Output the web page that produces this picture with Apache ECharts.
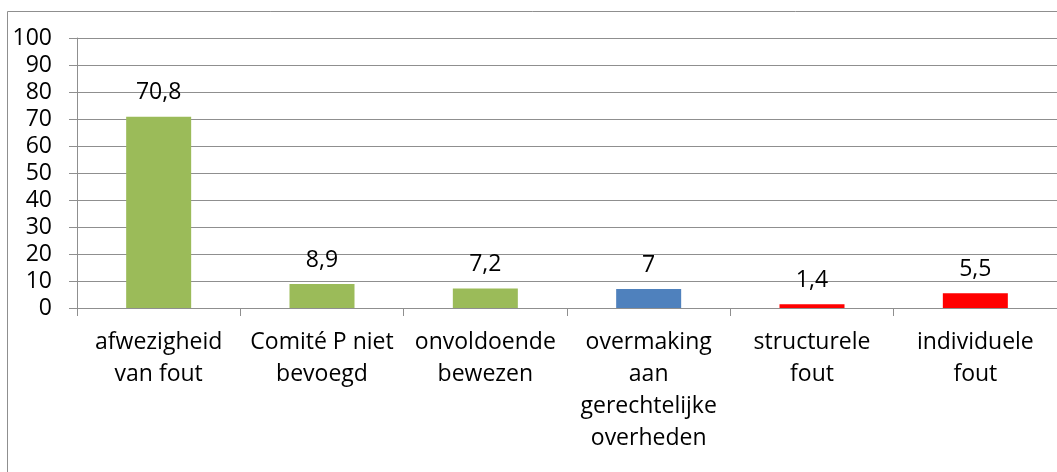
<!DOCTYPE html>
<html>
<head>
<meta charset="utf-8">
<script src="https://cdn.jsdelivr.net/npm/echarts@6/dist/echarts.min.js"></script>
<style>
html,body{margin:0;padding:0;background:#fff;overflow:hidden;}
#chart{width:1057px;height:472px;}
</style>
</head>
<body>
<div id="chart"></div>
<script>
const categories = [
  "afwezigheid\nvan fout",
  "Comité P niet\nbevoegd",
  "onvoldoende\nbewezen",
  "overmaking\naan\ngerechtelijke\noverheden",
  "structurele\nfout",
  "individuele\nfout"
];
const values = [70.8, 8.9, 7.2, 7, 1.4, 5.5];
const barColors = ["#9BBB59", "#9BBB59", "#9BBB59", "#4F81BD", "#FF0000", "#FF0000"];
const yMin = 0, yMax = 100, yStep = 10;

const FONT = "'Open Sans', 'Liberation Sans', sans-serif";
const GRAY = "#8f8f8f";

const chart = echarts.init(document.getElementById('chart'), null, {renderer: 'canvas'});
chart.setOption({
  animation: false,
  backgroundColor: '#fff',
  textStyle: {fontFamily: FONT},
  graphic: [{
    type: 'rect',
    shape: {x: 7.5, y: 11.5, width: 1200, height: 600},
    style: {fill: 'none', stroke: GRAY, lineWidth: 1},
    silent: true
  }],
  grid: {left: 77, top: 38, width: 993, height: 270, containLabel: false},
  xAxis: {
    type: 'category',
    data: categories,
    axisLine: {show: true, lineStyle: {color: GRAY, width: 1}},
    axisTick: {show: true, length: 8, lineStyle: {color: GRAY}},
    axisLabel: {interval: 0, color: '#000', fontFamily: FONT, fontSize: 23, lineHeight: 32, margin: 18}
  },
  yAxis: {
    type: 'value',
    min: yMin, max: yMax, interval: yStep,
    axisLine: {show: true, lineStyle: {color: GRAY, width: 1}},
    axisTick: {show: true, length: 8, lineStyle: {color: GRAY}},
    splitLine: {show: true, lineStyle: {color: GRAY, width: 1}},
    axisLabel: {color: '#000', fontFamily: FONT, fontSize: 23, margin: 25}
  },
  series: [{
    type: 'bar',
    barWidth: 65,
    data: values.map((v, i) => ({value: v, itemStyle: {color: barColors[i]}})),
    label: {
      show: true,
      position: 'top',
      distance: 11,
      color: '#000',
      fontFamily: FONT,
      fontSize: 23,
      lineHeight: 26,
      formatter: p => String(p.value).replace('.', ',')
    }
  }]
});
</script>
</body>
</html>
